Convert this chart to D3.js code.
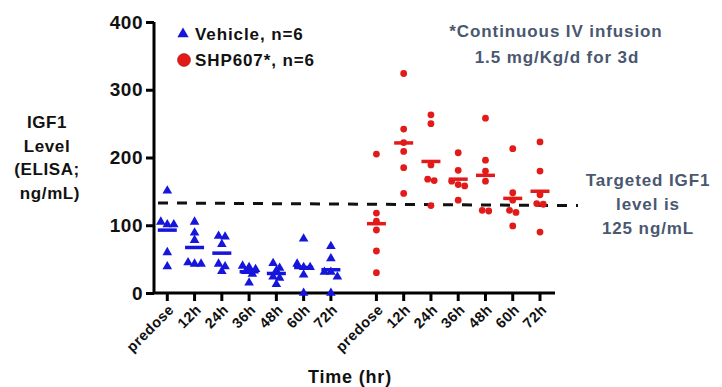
<!DOCTYPE html>
<html>
<head>
<meta charset="utf-8">
<script src="https://cdn.jsdelivr.net/npm/d3@7"></script>
<style>
  body { margin: 0; background: #fff; }
  text { font-family: "Liberation Sans", Arial, sans-serif; font-weight: bold; }
</style>
</head>
<body>
<svg id="chart" width="722" height="387"></svg>
<script>
var timepoints = ["predose", "12h", "24h", "36h", "48h", "60h", "72h"]

// IGF1 (ng/mL), six animals per timepoint
var vehicle = [
  [151, 105, 101, 101, 60, 39],
  [105, 89, 78, 45, 43, 43],
  [84, 83, 72, 43, 39, 32],
  [40, 38, 35, 32, 28, 15],
  [44, 37, 33, 24, 22, 13],
  [80, 43, 38, 38, 27, 0],
  [69, 51, 31, 31, 24, 0]
]
var shp607 = [
  [205, 118, 106, 93, 62, 30],
  [324, 242, 222, 209, 185, 147],
  [263, 250, 189, 168, 166, 129],
  [207, 181, 165, 160, 158, 137],
  [258, 196, 180, 165, 122, 121],
  [213, 148, 137, 122, 119, 99],
  [223, 180, 145, 132, 131, 90]
]
var yTicks = [0, 100, 200, 300, 400]
var targetLine = [133, 129]   // dashed line as drawn (left end, right end)

var blue = "#1515dc"
var red = "#e31a1a"
var slate = "#4a5770"

var svg = d3.select("#chart")

// second group is shifted a bit further right, like the prism layout
var groupGap = 7.67
var x = d3.scaleLinear().domain([0, 6 + groupGap]).range([167.3, 540])
var y = d3.scaleLinear().domain([0, 400]).range([293, 22])

// y axis
var yAxis = svg.append("g")
  .attr("transform", "translate(154,0)")
  .call(d3.axisLeft(y).tickValues(yTicks).tickSize(8).tickPadding(3))
yAxis.select(".domain").attr("stroke", "#000").attr("stroke-width", 3)
  .attr("d", "M0," + y(400) + "V" + y(0))
yAxis.selectAll(".tick line").attr("stroke-width", 3)
yAxis.selectAll(".tick text").style("font-size", "19px").style("letter-spacing", "0.5px").attr("fill", "#111")

// x axis
var xPos = []
timepoints.forEach(function (t, i) { xPos.push({ label: t, pos: x(i) }) })
timepoints.forEach(function (t, i) { xPos.push({ label: t, pos: x(i + groupGap) }) })

svg.append("line")
  .attr("x1", 154).attr("x2", 555)
  .attr("y1", y(0)).attr("y2", y(0))
  .attr("stroke", "#000").attr("stroke-width", 3)

var xt = svg.append("g").selectAll("g").data(xPos).enter().append("g")
  .attr("transform", function (d) { return "translate(" + d.pos + "," + y(0) + ")" })
xt.append("line").attr("y2", 8).attr("stroke", "#000").attr("stroke-width", 3)
xt.append("text")
  .attr("transform", "translate(4,14) rotate(-45)")
  .attr("text-anchor", "end")
  .attr("dy", "0.35em")
  .style("font-size", "14.5px")
  .style("letter-spacing", "0.5px")
  .attr("fill", "#111")
  .text(function (d) { return d.label })

// dashed target line
svg.append("line")
  .attr("x1", 158).attr("x2", 578)
  .attr("y1", y(targetLine[0])).attr("y2", y(targetLine[1]))
  .attr("stroke", "#111").attr("stroke-width", 3)
  .attr("stroke-dasharray", "10,9")

// spread points that would overlap, centred on the column
function spread(vals) {
  var sorted = vals.map(function (v, i) { return { v: v, i: i } })
    .sort(function (a, b) { return b.v - a.v })
  var rows = []
  sorted.forEach(function (p) {
    var last = rows[rows.length - 1]
    if (last && Math.abs(y(last[0].v) - y(p.v)) < 5) last.push(p)
    else rows.push([p])
  })
  var out = []
  rows.forEach(function (r) {
    r.forEach(function (p, k) {
      out.push({ v: p.v, dx: (k - (r.length - 1) / 2) * 6.5 })
    })
  })
  return out
}

var tri = d3.symbol().type(d3.symbolTriangle).size(40)

function drawGroup(data, offset, color, isTri) {
  data.forEach(function (vals, i) {
    var cx = x(i + offset)
    var g = svg.append("g")
    var pts = spread(vals)
    if (isTri) {
      g.selectAll("path").data(pts).enter().append("path")
        .attr("d", tri)
        .attr("transform", function (d) { return "translate(" + (cx + d.dx) + "," + y(d.v) + ")" })
        .attr("fill", color)
    } else {
      g.selectAll("circle").data(pts).enter().append("circle")
        .attr("cx", function (d) { return cx + d.dx })
        .attr("cy", function (d) { return y(d.v) })
        .attr("r", 3.4)
        .attr("fill", color)
    }
    var m = d3.mean(vals)
    g.append("line")
      .attr("x1", cx - 9.5).attr("x2", cx + 9.5)
      .attr("y1", y(m)).attr("y2", y(m))
      .attr("stroke", color).attr("stroke-width", 3.5)
  })
}

drawGroup(vehicle, 0, blue, true)
drawGroup(shp607, groupGap, red, false)

// legend
svg.append("path").attr("d", d3.symbol().type(d3.symbolTriangle).size(55))
  .attr("transform", "translate(183,34)").attr("fill", blue)
svg.append("text").attr("x", 195).attr("y", 40).style("font-size", "17px").style("letter-spacing", "0.9px")
  .attr("fill", "#111").text("Vehicle, n=6")
svg.append("circle").attr("cx", 184).attr("cy", 60).attr("r", 6.5).attr("fill", red)
  .attr("stroke", "#900").attr("stroke-width", 0.5)
svg.append("text").attr("x", 195).attr("y", 66).style("font-size", "17px").style("letter-spacing", "0.9px")
  .attr("fill", "#111").text("SHP607*, n=6")

// notes
var note = svg.append("text").attr("text-anchor", "middle").style("font-size", "17px")
  .style("letter-spacing", "0.9px").attr("fill", slate)
note.append("tspan").attr("x", 556).attr("y", 37).text("*Continuous IV infusion")
note.append("tspan").attr("x", 557).attr("y", 63).text("1.5 mg/Kg/d for 3d")

var target = svg.append("text").attr("text-anchor", "middle").style("font-size", "17px")
  .style("letter-spacing", "0.9px").attr("fill", slate)
target.append("tspan").attr("x", 648).attr("y", 186).text("Targeted IGF1")
target.append("tspan").attr("x", 648).attr("y", 210).text("level is")
target.append("tspan").attr("x", 648).attr("y", 234).text("125 ng/mL")

// axis titles
var yl = svg.append("text").attr("text-anchor", "middle").style("font-size", "17px")
  .style("letter-spacing", "0.6px").attr("fill", "#111")
;["IGF1", "Level", "(ELISA;", "ng/mL)"].forEach(function (s, i) {
  yl.append("tspan").attr("x", i == 3 ? 50 : 47).attr("y", 128 + i * 23.5).text(s)
})
svg.append("text").attr("x", 350).attr("y", 383).attr("text-anchor", "middle")
  .style("font-size", "18px").style("letter-spacing", "0.8px").attr("fill", "#111").text("Time (hr)")
</script>
</body>
</html>
